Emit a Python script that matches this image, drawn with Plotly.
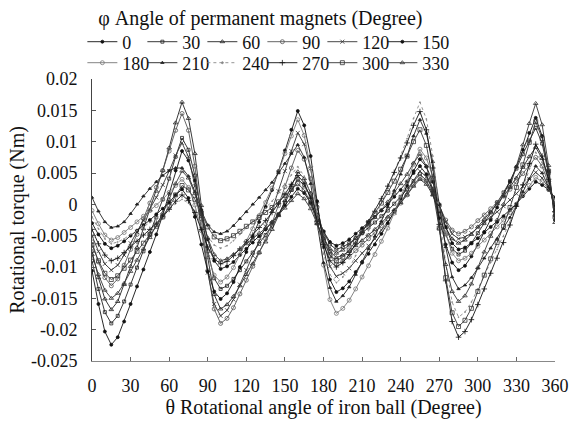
import plotly.graph_objects as go

# theta grid (degrees)
theta = list(range(0, 365, 5))

phi_labels = ["0", "30", "60", "90", "120", "150", "180", "210", "240", "270", "300", "330"]

phi0 = [-0.0106,-0.0159,-0.0203,-0.0224,-0.0212,-0.0187,-0.0159,-0.0131,-0.0104,-0.0076,-0.0048,-0.0017,0.0017,0.0054,0.0085,0.0070,0.0038,-0.0009,-0.0056,-0.0090,-0.0103,-0.0099,-0.0092,-0.0081,-0.0071,-0.0061,-0.0051,-0.0040,-0.0029,-0.0016,-0.0002,0.0012,0.0025,0.0018,0.0002,-0.0021,-0.0043,-0.0060,-0.0066,-0.0062,-0.0056,-0.0047,-0.0038,-0.0029,-0.0020,-0.0010,0.0000,0.0012,0.0023,0.0036,0.0050,0.0061,0.0048,0.0020,-0.0022,-0.0064,-0.0093,-0.0105,-0.0098,-0.0083,-0.0064,-0.0044,-0.0025,-0.0005,0.0014,0.0036,0.0060,0.0087,0.0114,0.0138,0.0109,0.0053,-0.0025]
phi30 = [-0.0090,-0.0135,-0.0172,-0.0190,-0.0178,-0.0155,-0.0128,-0.0101,-0.0075,-0.0048,-0.0021,0.0008,0.0041,0.0076,0.0106,0.0087,0.0046,-0.0015,-0.0075,-0.0118,-0.0135,-0.0130,-0.0119,-0.0105,-0.0091,-0.0077,-0.0063,-0.0049,-0.0034,-0.0016,0.0003,0.0023,0.0040,0.0031,0.0012,-0.0016,-0.0044,-0.0064,-0.0072,-0.0068,-0.0062,-0.0054,-0.0046,-0.0037,-0.0029,-0.0019,-0.0010,0.0001,0.0012,0.0024,0.0037,0.0048,0.0038,0.0016,-0.0016,-0.0048,-0.0071,-0.0080,-0.0074,-0.0062,-0.0046,-0.0030,-0.0013,0.0003,0.0019,0.0037,0.0057,0.0080,0.0102,0.0122,0.0097,0.0049,-0.0018]
phi60 = [-0.0075,-0.0117,-0.0151,-0.0168,-0.0155,-0.0128,-0.0099,-0.0069,-0.0039,-0.0009,0.0021,0.0054,0.0090,0.0130,0.0163,0.0137,0.0081,-0.0002,-0.0085,-0.0144,-0.0167,-0.0160,-0.0147,-0.0130,-0.0112,-0.0095,-0.0077,-0.0060,-0.0040,-0.0018,0.0006,0.0030,0.0052,0.0041,0.0018,-0.0017,-0.0051,-0.0075,-0.0085,-0.0081,-0.0075,-0.0066,-0.0058,-0.0049,-0.0040,-0.0030,-0.0020,-0.0009,0.0003,0.0015,0.0029,0.0040,0.0032,0.0015,-0.0011,-0.0037,-0.0055,-0.0062,-0.0057,-0.0048,-0.0036,-0.0024,-0.0012,0.0001,0.0013,0.0027,0.0042,0.0059,0.0076,0.0091,0.0073,0.0038,-0.0010]
phi90 = [-0.0060,-0.0092,-0.0117,-0.0130,-0.0119,-0.0097,-0.0072,-0.0048,-0.0023,0.0002,0.0027,0.0054,0.0085,0.0118,0.0145,0.0118,0.0061,-0.0023,-0.0106,-0.0167,-0.0190,-0.0182,-0.0165,-0.0143,-0.0121,-0.0099,-0.0077,-0.0055,-0.0030,-0.0002,0.0028,0.0058,0.0086,0.0072,0.0041,-0.0005,-0.0050,-0.0082,-0.0095,-0.0091,-0.0084,-0.0074,-0.0065,-0.0055,-0.0045,-0.0034,-0.0023,-0.0011,0.0002,0.0015,0.0031,0.0043,0.0036,0.0021,-0.0002,-0.0025,-0.0041,-0.0047,-0.0043,-0.0036,-0.0026,-0.0017,-0.0007,0.0003,0.0013,0.0024,0.0036,0.0049,0.0063,0.0075,0.0061,0.0033,-0.0005]
phi120 = [-0.0050,-0.0075,-0.0095,-0.0105,-0.0097,-0.0081,-0.0062,-0.0044,-0.0026,-0.0008,0.0011,0.0031,0.0053,0.0078,0.0098,0.0076,0.0029,-0.0040,-0.0109,-0.0159,-0.0178,-0.0169,-0.0152,-0.0128,-0.0105,-0.0082,-0.0058,-0.0035,-0.0009,0.0021,0.0053,0.0085,0.0114,0.0096,0.0057,0.0000,-0.0058,-0.0099,-0.0115,-0.0110,-0.0102,-0.0090,-0.0078,-0.0066,-0.0055,-0.0041,-0.0028,-0.0013,0.0003,0.0019,0.0038,0.0053,0.0044,0.0026,-0.0001,-0.0028,-0.0047,-0.0055,-0.0052,-0.0046,-0.0037,-0.0029,-0.0020,-0.0012,-0.0003,0.0007,0.0017,0.0029,0.0040,0.0051,0.0042,0.0026,0.0002]
phi150 = [-0.0030,-0.0048,-0.0063,-0.0070,-0.0066,-0.0059,-0.0050,-0.0042,-0.0033,-0.0025,-0.0016,-0.0007,0.0003,0.0015,0.0024,0.0010,-0.0020,-0.0064,-0.0107,-0.0139,-0.0151,-0.0142,-0.0124,-0.0100,-0.0076,-0.0052,-0.0028,-0.0004,0.0023,0.0053,0.0086,0.0119,0.0149,0.0126,0.0077,0.0005,-0.0068,-0.0120,-0.0140,-0.0134,-0.0123,-0.0108,-0.0093,-0.0079,-0.0064,-0.0047,-0.0030,-0.0011,0.0008,0.0030,0.0053,0.0072,0.0060,0.0036,0.0000,-0.0036,-0.0062,-0.0072,-0.0069,-0.0062,-0.0054,-0.0045,-0.0036,-0.0028,-0.0019,-0.0009,0.0001,0.0013,0.0025,0.0036,0.0031,0.0023,0.0011]
phi180 = [-0.0010,-0.0031,-0.0049,-0.0057,-0.0053,-0.0045,-0.0037,-0.0028,-0.0019,-0.0010,-0.0002,0.0008,0.0019,0.0030,0.0040,0.0027,-0.0001,-0.0042,-0.0083,-0.0113,-0.0124,-0.0116,-0.0101,-0.0080,-0.0059,-0.0039,-0.0018,0.0003,0.0026,0.0052,0.0081,0.0109,0.0135,0.0110,0.0058,-0.0020,-0.0097,-0.0152,-0.0174,-0.0166,-0.0153,-0.0135,-0.0116,-0.0098,-0.0080,-0.0059,-0.0038,-0.0014,0.0009,0.0036,0.0064,0.0088,0.0074,0.0044,-0.0001,-0.0046,-0.0078,-0.0090,-0.0086,-0.0078,-0.0067,-0.0057,-0.0046,-0.0036,-0.0025,-0.0013,0.0000,0.0015,0.0030,0.0043,0.0036,0.0024,0.0006]
phi210 = [0.0011,-0.0011,-0.0028,-0.0037,-0.0035,-0.0028,-0.0015,0.0000,0.0013,0.0025,0.0036,0.0046,0.0054,0.0058,0.0058,0.0045,0.0020,-0.0010,-0.0033,-0.0044,-0.0047,-0.0043,-0.0034,-0.0023,-0.0012,0.0000,0.0011,0.0023,0.0035,0.0050,0.0065,0.0081,0.0095,0.0075,0.0033,-0.0030,-0.0093,-0.0133,-0.0155,-0.0146,-0.0132,-0.0112,-0.0091,-0.0071,-0.0051,-0.0027,-0.0004,0.0022,0.0048,0.0077,0.0109,0.0135,0.0113,0.0068,0.0000,-0.0068,-0.0116,-0.0135,-0.0129,-0.0117,-0.0102,-0.0086,-0.0070,-0.0055,-0.0039,-0.0021,-0.0002,0.0020,0.0041,0.0061,0.0050,0.0028,-0.0002]
phi240 = [-0.0020,-0.0039,-0.0055,-0.0063,-0.0060,-0.0055,-0.0048,-0.0042,-0.0035,-0.0029,-0.0023,-0.0015,-0.0008,0.0001,0.0008,0.0002,-0.0012,-0.0031,-0.0051,-0.0065,-0.0070,-0.0066,-0.0058,-0.0048,-0.0038,-0.0027,-0.0017,-0.0006,0.0005,0.0018,0.0033,0.0047,0.0060,0.0045,0.0014,-0.0033,-0.0079,-0.0112,-0.0125,-0.0116,-0.0102,-0.0082,-0.0062,-0.0042,-0.0021,0.0002,0.0025,0.0051,0.0077,0.0105,0.0137,0.0163,0.0136,0.0077,-0.0009,-0.0094,-0.0156,-0.0180,-0.0172,-0.0156,-0.0135,-0.0114,-0.0093,-0.0072,-0.0051,-0.0028,-0.0001,0.0028,0.0057,0.0083,0.0067,0.0036,-0.0008]
phi270 = [-0.0040,-0.0063,-0.0081,-0.0090,-0.0086,-0.0077,-0.0068,-0.0059,-0.0049,-0.0040,-0.0030,-0.0020,-0.0008,0.0005,0.0015,0.0006,-0.0013,-0.0040,-0.0068,-0.0087,-0.0095,-0.0091,-0.0082,-0.0071,-0.0060,-0.0049,-0.0037,-0.0026,-0.0013,0.0001,0.0016,0.0032,0.0046,0.0034,0.0010,-0.0027,-0.0064,-0.0090,-0.0100,-0.0093,-0.0080,-0.0063,-0.0045,-0.0028,-0.0011,0.0009,0.0029,0.0051,0.0074,0.0098,0.0126,0.0148,0.0119,0.0058,-0.0032,-0.0122,-0.0187,-0.0212,-0.0203,-0.0184,-0.0160,-0.0135,-0.0110,-0.0086,-0.0061,-0.0033,-0.0003,0.0031,0.0065,0.0096,0.0077,0.0040,-0.0012]
phi300 = [-0.0065,-0.0090,-0.0110,-0.0120,-0.0114,-0.0102,-0.0089,-0.0075,-0.0062,-0.0048,-0.0035,-0.0020,-0.0003,0.0015,0.0030,0.0023,0.0008,-0.0014,-0.0036,-0.0052,-0.0058,-0.0055,-0.0050,-0.0043,-0.0035,-0.0028,-0.0021,-0.0013,-0.0005,0.0004,0.0014,0.0024,0.0033,0.0023,0.0002,-0.0029,-0.0059,-0.0081,-0.0090,-0.0084,-0.0073,-0.0059,-0.0044,-0.0029,-0.0015,0.0002,0.0019,0.0037,0.0056,0.0077,0.0100,0.0119,0.0094,0.0041,-0.0038,-0.0117,-0.0173,-0.0195,-0.0185,-0.0166,-0.0139,-0.0113,-0.0087,-0.0061,-0.0035,-0.0005,0.0027,0.0063,0.0099,0.0132,0.0105,0.0053,-0.0020]
phi330 = [-0.0080,-0.0112,-0.0137,-0.0150,-0.0142,-0.0126,-0.0107,-0.0089,-0.0071,-0.0053,-0.0034,-0.0014,0.0008,0.0033,0.0053,0.0042,0.0017,-0.0019,-0.0054,-0.0080,-0.0090,-0.0087,-0.0080,-0.0072,-0.0063,-0.0055,-0.0046,-0.0038,-0.0028,-0.0017,-0.0006,0.0006,0.0017,0.0009,-0.0007,-0.0031,-0.0054,-0.0071,-0.0078,-0.0073,-0.0065,-0.0054,-0.0043,-0.0032,-0.0021,-0.0009,0.0004,0.0018,0.0033,0.0048,0.0066,0.0080,0.0061,0.0021,-0.0038,-0.0096,-0.0139,-0.0155,-0.0146,-0.0127,-0.0101,-0.0076,-0.0051,-0.0025,0.0000,0.0028,0.0060,0.0095,0.0129,0.0161,0.0127,0.0062,-0.0029]

series = [phi0, phi30, phi60, phi90, phi120, phi150, phi180, phi210, phi240, phi270, phi300, phi330]
for lab, s in zip(phi_labels, series):
    if len(s) != len(theta):
        raise ValueError(f"series {lab} has {len(s)} points")

x_ticks = [0, 30, 60, 90, 120, 150, 180, 210, 240, 270, 300, 330, 360]
y_ticks = [0.02, 0.015, 0.01, 0.005, 0, -0.005, -0.01, -0.015, -0.02, -0.025]
y_tick_text = ["0.02", "0.015", "0.01", "0.005", "0", "-0.005", "-0.01", "-0.015", "-0.02", "-0.025"]

# styles (symbol, marker size, line color, dash)
styles = [
    ("circle", 3, "#111111", "solid"),
    ("square-open", 3, "#222222", "solid"),
    ("triangle-up-open", 4, "#222222", "solid"),
    ("circle-open", 4, "#555555", "solid"),
    ("x-thin-open", 4, "#333333", "solid"),
    ("circle", 3, "#111111", "solid"),
    ("circle-open", 4, "#777777", "solid"),
    ("triangle-up", 3, "#222222", "solid"),
    ("circle", 1, "#888888", "dot"),
    ("cross-thin-open", 4, "#111111", "solid"),
    ("square-open", 4, "#333333", "solid"),
    ("triangle-up-open", 4, "#333333", "solid"),
]

FONT = "Liberation Serif"

fig = go.Figure()
for i, (lab, s) in enumerate(zip(phi_labels, series)):
    sym, msz, col, dash = styles[i]
    fig.add_trace(go.Scatter(
        x=theta, y=s, name=lab, mode="lines+markers",
        line=dict(color=col, width=0.9, dash=dash),
        marker=dict(symbol=sym, size=msz, color=col, line=dict(color=col, width=0.8)),
        legend="legend" if i < 6 else "legend2",
    ))

# invisible spacer entries so the last legend label is not clipped
for leg in ["legend", "legend2"]:
    fig.add_trace(go.Scatter(
        x=[None], y=[None], name=" ", mode="lines",
        line=dict(color="rgba(0,0,0,0)", width=0), hoverinfo="skip", legend=leg,
    ))

leg_common = dict(
    orientation="h", xanchor="left", yanchor="middle",
    xref="container", yref="container",
    font=dict(family=FONT, size=18, color="#111"),
    bgcolor="rgba(0,0,0,0)", entrywidth=15, entrywidthmode="pixels",
    itemwidth=30, tracegroupgap=0,
)

fig.update_layout(
    width=580, height=427,
    margin=dict(l=92, r=25, t=79, b=66, autoexpand=False),
    paper_bgcolor="white", plot_bgcolor="white",
    font=dict(family=FONT, size=18, color="#111"),
    title=dict(text="φ Angle of permanent magnets (Degree)", x=0.449, xref="container",
               xanchor="center", y=1 - 18 / 427, yref="container", yanchor="middle",
               font=dict(family=FONT, size=20, color="#111")),
    legend=dict(x=0.142, y=1 - 42 / 427, **leg_common),
    legend2=dict(x=0.142, y=1 - 63 / 427, **leg_common),
    xaxis=dict(
        range=[0, 360], tickvals=x_ticks, ticktext=[str(v) for v in x_ticks],
        ticks="inside", ticklen=4, tickcolor="#666", showline=True, linecolor="#888",
        linewidth=1, showgrid=False, zeroline=False, ticklabelstandoff=8, automargin=False,
        tickfont=dict(family=FONT, size=18, color="#111"),
        title=dict(text="θ Rotational angle of iron ball (Degree)", standoff=4,
                   font=dict(family=FONT, size=20, color="#111")),
    ),
    yaxis=dict(
        range=[-0.025, 0.02], tickvals=y_ticks, ticktext=y_tick_text,
        ticks="inside", ticklen=4, tickcolor="#555", showline=True, linecolor="#444",
        linewidth=1, showgrid=False, zeroline=False, ticklabelstandoff=10, automargin=False,
        tickfont=dict(family=FONT, size=18, color="#111"),
        title=dict(text="Rotational torque (Nm)", standoff=0,
                   font=dict(family=FONT, size=20, color="#111")),
    ),
)

fig.write_html(
    "out.html",
    config={"displayModeBar": False},
    post_script="document.body.style.margin='0px';document.body.style.overflow='hidden';",
)
